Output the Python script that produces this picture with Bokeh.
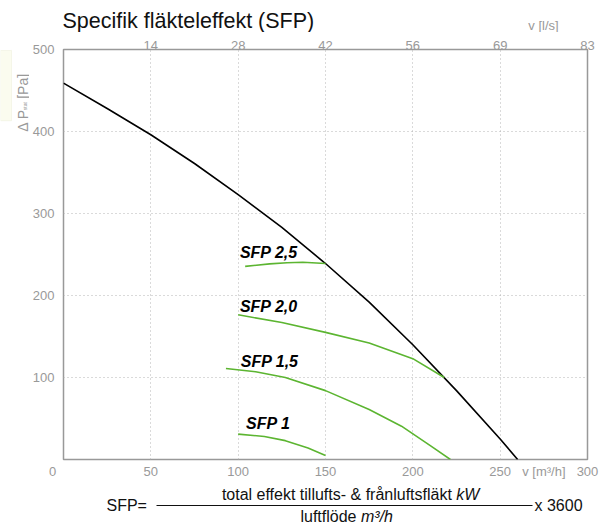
from bokeh.plotting import figure
from bokeh.layouts import column, row
from bokeh.models import Range1d, LinearAxis, FixedTicker, Label, Arrow, BoxAnnotation
from bokeh.embed import file_html
from bokeh.resources import INLINE

# ---- data ----
flow_m3h = [0, 25, 50, 75, 100, 125, 150, 175, 200, 225, 250, 260]
fan_pa = [459, 428, 396, 361, 323, 283, 239, 192, 140, 84, 25, 0]

sfp25_x = [104, 118, 128, 137, 150]
sfp25_y = [235.5, 238.6, 240, 240.5, 239]
sfp20_x = [100, 125, 150, 175, 200, 218]
sfp20_y = [176.5, 167, 155, 142, 123, 100]
sfp15_x = [93, 110, 127, 150, 175, 193.5, 210, 221.5]
sfp15_y = [111, 107, 100, 84, 61, 40.6, 17, 0]
sfp10_x = [100, 115, 127, 140, 150]
sfp10_y = [31, 28, 23, 14, 5]

sfp_names = ["SFP 2,5", "SFP 2,0", "SFP 1,5", "SFP 1"]
sfp_label_x = [101, 101, 101.5, 104.5]
sfp_label_y = [252, 186, 119, 43.5]

x_ticks = [0, 50, 100, 150, 200, 250, 300]
x_top_labels = ["", "14", "28", "42", "56", "69", "83"]
y_ticks = [0, 100, 200, 300, 400, 500]
x_caption_pos = 275            # where "v [m³/h]" sits along the flow axis

# ---- geometry (page pixels) ----
W, H = 613, 527
FL, FR, FT, FB = 60, 587, 49, 459   # plot frame edges on the page
TOP_H = 32                          # title strip height
LEFT_W = 29                         # y-caption strip width
BOT_Y = 481                         # where the formula strip starts
XMAX, YMAX = 300, 500

FONT = "Liberation Sans"
GRAY = "#999999"
GREEN = "#5cb531"
INK = "#111111"
NB = "\u00a0"


def text_strip(w, h):
    f = figure(width=w, height=h, output_backend="svg", toolbar_location=None,
               x_range=Range1d(0, w), y_range=Range1d(h, 0),
               x_axis_type=None, y_axis_type=None, min_border=0,
               background_fill_color="white", border_fill_color="white")
    f.outline_line_color = None
    f.grid.visible = False
    return f


def lab(f, px, py, text, size="13px", color=GRAY, align="left", style="normal", angle=0):
    f.add_layout(Label(x=px, y=py, text=text, text_font=FONT, text_font_size=size,
                       text_color=color, text_align=align, text_baseline="middle",
                       text_font_style=style, angle=angle, angle_units="deg"))


# ---- title strip ----
t = text_strip(W, TOP_H)
lab(t, 62, 20.5, "Specifik fläkteleffekt (SFP)", size="21.5px", color=INK)
lab(t, 543, 24.5, "v [l/s]", align="center")

# ---- left strip (y caption) ----
MAIN_H = BOT_Y - TOP_H
lf = text_strip(LEFT_W, MAIN_H)
lf.add_layout(BoxAnnotation(left=0, right=11, top=33 - TOP_H, bottom=110 - TOP_H,
                            fill_color="#fbfcef", fill_alpha=1.0,
                            line_color="#e4e9c6", line_width=1))
lab(lf, 22, 122 - TOP_H, "Δ P", size="14px", angle=90)
lab(lf, 24.5, 98.5 - TOP_H, "stat", size="5px", angle=90)
lab(lf, 22, 86 - TOP_H, "[Pa]", size="14px", angle=90)

# ---- main plot ----
MAIN_W = W - LEFT_W
p = figure(width=MAIN_W, height=MAIN_H, output_backend="svg", toolbar_location=None,
           x_range=Range1d(0, XMAX), y_range=Range1d(0, YMAX),
           min_border_left=FL - LEFT_W, min_border_right=W - FR,
           min_border_top=FT - TOP_H, min_border_bottom=BOT_Y - FB,
           background_fill_color="white", border_fill_color="white")
p.outline_line_color = GRAY
p.outline_line_width = 1.5

xt = FixedTicker(ticks=x_ticks)
yt = FixedTicker(ticks=y_ticks)


def style_axis(ax, standoff):
    ax.axis_line_color = None
    ax.major_tick_line_color = None
    ax.minor_tick_line_color = None
    ax.major_tick_out = 0
    ax.major_tick_in = 0
    ax.minor_tick_out = 0
    ax.minor_tick_in = 0
    ax.major_label_text_color = GRAY
    ax.major_label_text_font = FONT
    ax.major_label_text_font_size = "13px"
    ax.major_label_standoff = standoff


p.xaxis.ticker = FixedTicker(ticks=x_ticks + [x_caption_pos])
p.xaxis.major_label_overrides = {0: "0" + NB * 6, x_caption_pos: "v [m³/h]"}
style_axis(p.xaxis[0], 4)
p.yaxis.ticker = yt
p.yaxis.major_label_overrides = {0: ""}
style_axis(p.yaxis[0], 9)

top = LinearAxis(ticker=xt, major_label_overrides={tk: l for tk, l in zip(x_ticks, x_top_labels)})
style_axis(top, 0)
p.add_layout(top, "above")

p.xgrid.ticker = xt
p.ygrid.ticker = yt
for g in (p.xgrid[0], p.ygrid[0]):
    g.grid_line_color = "#b4b4b4"
    g.grid_line_dash = "1 3"
    g.grid_line_width = 1

p.line(flow_m3h, fan_pa, line_color="black", line_width=1.6)
for xs, ys in ((sfp25_x, sfp25_y), (sfp20_x, sfp20_y), (sfp15_x, sfp15_y), (sfp10_x, sfp10_y)):
    p.line(xs, ys, line_color=GREEN, line_width=1.6)

for name, lx, ly in zip(sfp_names, sfp_label_x, sfp_label_y):
    p.add_layout(Label(x=lx, y=ly, text=name, text_font=FONT, text_font_size="16px",
                       text_font_style="bold italic", text_color="black",
                       text_baseline="middle", text_align="left"))

# ---- formula strip ----
FH = H - BOT_Y
fm = text_strip(W, FH)
yo = BOT_Y
lab(fm, 106, 505 - yo, "SFP=", size="16px", color=INK)
lab(fm, 451.4, 494 - yo, "total effekt tillufts- & frånluftsfläkt", size="16px", color=INK, align="right")
lab(fm, 455.8, 494 - yo, "kW", size="16px", color=INK, style="italic")
lab(fm, 356, 516 - yo, "luftflöde", size="16px", color=INK, align="right")
lab(fm, 360.5, 516 - yo, "m³/h", size="16px", color=INK, style="italic")
lab(fm, 534, 505 - yo, "x 3600", size="16px", color=INK)
fm.add_layout(Arrow(x_start=156, y_start=505 - yo, x_end=532, y_end=505 - yo,
                    start=None, end=None, line_color=INK, line_width=1))

layout = column(t, row(lf, p, spacing=0), fm, spacing=0)
open("out.html", "w").write(file_html(layout, INLINE))
